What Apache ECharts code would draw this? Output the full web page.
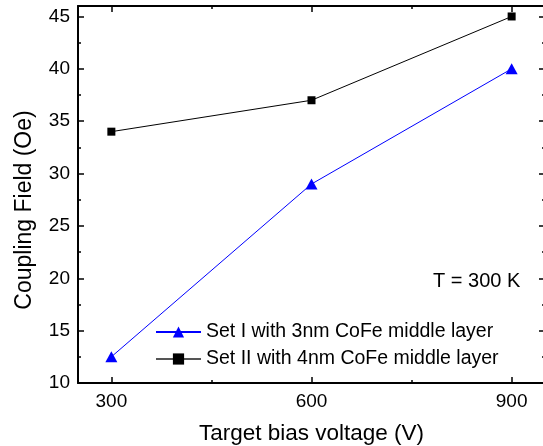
<!DOCTYPE html>
<html>
<head>
<meta charset="utf-8">
<script src="https://cdn.jsdelivr.net/npm/echarts@6/dist/echarts.min.js"></script>
<style>
html,body{margin:0;padding:0;background:#fff;}
#chart{width:543px;height:446px;}
</style>
</head>
<body>
<div id="chart"></div>
<script>
const voltages = [300, 600, 900];
const setI = [12.5, 29, 40];
const setII = [34, 37, 45];
const xTicks = [300, 600, 900];
const xMinor = [450, 750];
const yTicks = [10, 15, 20, 25, 30, 35, 40, 45];
const yMinor = [12.5, 17.5, 22.5, 27.5, 32.5, 37.5, 42.5];
const seriesNames = ['Set I with 3nm CoFe middle layer', 'Set II with 4nm CoFe middle layer'];

const FONT = '"Liberation Sans", Arial, sans-serif';
const chart = echarts.init(document.getElementById('chart'), null, {renderer: 'canvas'});

function xAx(pos, ticks, len, showLine, showLabel, extra) {
  return Object.assign({
    type: 'value', min: 250, max: 950, position: pos,
    axisLine: {show: showLine, onZero: false, lineStyle: {color: '#000', width: 2}},
    axisTick: {show: true, inside: true, length: len, customValues: ticks, lineStyle: {color: '#000', width: 1.5}},
    axisLabel: {show: showLabel, customValues: ticks, margin: 9, color: '#000', fontSize: 19, fontFamily: FONT},
    splitLine: {show: false}
  }, extra || {});
}
function yAx(pos, ticks, len, showLine, showLabel, extra) {
  return Object.assign({
    type: 'value', min: 10, max: 46, position: pos,
    axisLine: {show: showLine, onZero: false, lineStyle: {color: '#000', width: 2}},
    axisTick: {show: true, inside: true, length: len, customValues: ticks, lineStyle: {color: '#000', width: 1.5}},
    axisLabel: {show: showLabel, customValues: ticks, margin: 8, color: '#000', fontSize: 19, fontFamily: FONT},
    splitLine: {show: false}
  }, extra || {});
}

const option = {
  backgroundColor: '#fff',
  animation: false,
  grid: {left: 78, top: 6, width: 467, height: 377, containLabel: false, outerBoundsMode: 'none'},
  xAxis: [
    xAx('bottom', xTicks, 6, true, true, {
      name: 'Target bias voltage (V)', nameLocation: 'middle', nameGap: 39,
      nameTextStyle: {color: '#000', fontSize: 22.5, fontFamily: FONT}
    }),
    xAx('bottom', xMinor, 3, false, false),
    xAx('top', xTicks, 6, true, false),
    xAx('top', xMinor, 3, false, false)
  ],
  yAxis: [
    yAx('left', yTicks, 6, true, true, {
      name: 'Coupling Field (Oe)', nameLocation: 'middle', nameGap: 42,
      nameTextStyle: {color: '#000', fontSize: 23, fontFamily: FONT, padding: [0, 31, 0, 0]}
    }),
    yAx('left', yMinor, 3, false, false),
    yAx('right', yTicks, 6, true, false),
    yAx('right', yMinor, 3, false, false)
  ],
  legend: {
    left: 150, top: 317, orient: 'vertical', itemGap: 7,
    itemWidth: 45, itemHeight: 14,
    textStyle: {color: '#000', fontSize: 19.5, fontFamily: FONT},
    data: [
      {name: seriesNames[0]},
      {name: seriesNames[1], lineStyle: {color: '#555'}}
    ]
  },
  graphic: [{
    type: 'text', left: 433, top: 271,
    style: {text: 'T = 300 K', fill: '#000', font: '20px ' + FONT}
  }],
  series: [
    {
      name: seriesNames[0], type: 'line', xAxisIndex: 0, yAxisIndex: 0,
      data: voltages.map((v, i) => [v, setI[i]]),
      symbol: 'triangle', symbolSize: [12, 11],
      lineStyle: {color: '#0000ff', width: 1},
      itemStyle: {color: '#0000ff'}, z: 3
    },
    {
      name: seriesNames[1], type: 'line', xAxisIndex: 0, yAxisIndex: 0,
      data: voltages.map((v, i) => [v, setII[i]]),
      symbol: 'rect', symbolSize: 8,
      lineStyle: {color: '#000', width: 1},
      itemStyle: {color: '#000'}, z: 3
    }
  ]
};
chart.setOption(option);
</script>
</body>
</html>
